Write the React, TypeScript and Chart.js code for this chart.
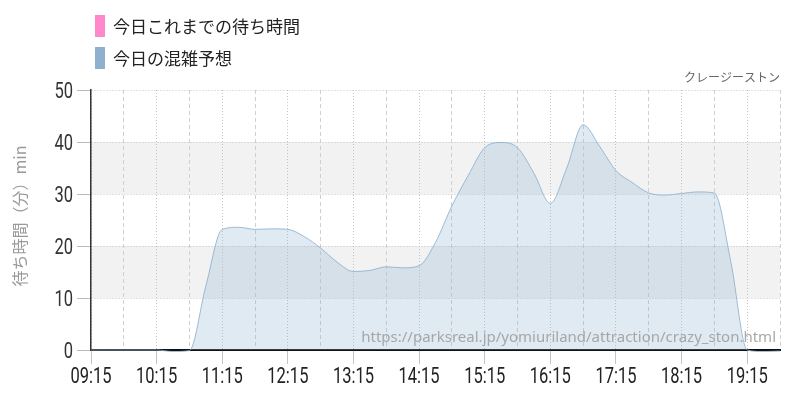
import React, { useEffect, useRef } from "react";
import { Chart, registerables } from "chart.js";

Chart.register(...registerables);

// ---- data ----
const times = [
  "09:15", "09:30", "09:45", "10:00", "10:15", "10:30", "10:45", "11:00",
  "11:15", "11:30", "11:45", "12:00", "12:15", "12:30", "12:45", "13:00",
  "13:15", "13:30", "13:45", "14:00", "14:15", "14:30", "14:45", "15:00",
  "15:15", "15:30", "15:45", "16:00", "16:15", "16:30", "16:45", "17:00",
  "17:15", "17:30", "17:45", "18:00", "18:15", "18:30", "18:45", "19:00",
  "19:15", "19:30", "19:45",
];
const forecast = [
  0, 0, 0, 0, 0, -0.3, -0.1, 12.3,
  23.2, 23.6, 23.2, 23.3, 23.2, 21.8, 19.6, 16.9,
  15.1, 15.3, 16.0, 15.8, 16.2, 20.7, 27.7, 33.6,
  38.9, 39.9, 38.9, 34.0, 28.2, 35.0, 43.3, 39.2,
  34.5, 32.2, 30.2, 29.8, 30.1, 30.4, 30.2, 17.0,
  0, -0.3, -0.2,
];
const actual: (number | null)[] = [];
const tickLabels = [
  "09:15", "10:15", "11:15", "12:15", "13:15", "14:15",
  "15:15", "16:15", "17:15", "18:15", "19:15",
];
const yTicks = [0, 10, 20, 30, 40, 50];
const bands = [
  [10, 20],
  [30, 40],
];
const seriesNames = ["今日これまでの待ち時間", "今日の混雑予想"];
const chartTitle = "クレージーストン";
const yAxisTitle = "待ち時間（分）min";
const sourceUrl = "https://parksreal.jp/yomiuriland/attraction/crazy_ston.html";

const NUM_FONT = "Roboto, 'DejaVu Sans', sans-serif";
const JP_FONT = "'Noto Sans CJK JP', 'Noto Sans', sans-serif";
const CONDENSE = 0.75;

function drawCondensed(ctx: any, text: string, x: number, y: number, align: string) {
  ctx.save();
  ctx.translate(x, y);
  ctx.scale(CONDENSE, 1);
  ctx.textAlign = align;
  ctx.fillText(text, 0, 0);
  ctx.restore();
}

const decorPlugin = {
  id: "decor",
  beforeDraw(chart: any) {
    const { ctx, chartArea, scales } = chart;
    const y = scales.y;
    ctx.save();
    ctx.fillStyle = "#f2f2f2";
    for (const [a, b] of bands) {
      const y1 = y.getPixelForValue(b);
      const y2 = y.getPixelForValue(a);
      ctx.fillRect(chartArea.left, y1, chartArea.right - chartArea.left, y2 - y1);
    }
    ctx.restore();
  },
  afterDatasetsDraw(chart: any) {
    const { ctx, chartArea } = chart;
    ctx.save();
    ctx.font = "15px 'Noto Sans', sans-serif";
    ctx.fillStyle = "rgba(160,160,160,0.9)";
    ctx.textAlign = "right";
    ctx.textBaseline = "middle";
    ctx.fillText(sourceUrl, chartArea.right - 4, chartArea.bottom - 12);
    ctx.restore();
  },
  afterDraw(chart: any) {
    const { ctx, chartArea, scales } = chart;
    ctx.save();
    // condensed tick labels
    ctx.font = `22px ${NUM_FONT}`;
    ctx.textBaseline = "alphabetic";
    ctx.fillStyle = "#222";
    for (const lab of tickLabels) {
      const px = scales.x.getPixelForValue(times.indexOf(lab));
      drawCondensed(ctx, lab, px, chartArea.bottom + 33, "center");
    }
    ctx.fillStyle = "#333";
    for (const v of yTicks) {
      const py = scales.y.getPixelForValue(v);
      drawCondensed(ctx, String(v), chartArea.left - 18, py + 8, "right");
    }
    // legend
    chart.data.datasets.forEach((ds: any, i: number) => {
      const top = 15 + i * 32;
      ctx.fillStyle = ds.legendColor;
      ctx.fillRect(95, top, 10, 22);
      ctx.fillStyle = "#222";
      ctx.font = `17px ${JP_FONT}`;
      ctx.textAlign = "left";
      ctx.textBaseline = "middle";
      ctx.fillText(ds.label, 113, top + 12);
    });
    // title
    ctx.font = `12px ${JP_FONT}`;
    ctx.fillStyle = "#666";
    ctx.textAlign = "right";
    ctx.textBaseline = "middle";
    ctx.fillText(chartTitle, chartArea.right, 77);
    // y axis title
    ctx.translate(20, (chartArea.top + chartArea.bottom) / 2 - 4);
    ctx.rotate(-Math.PI / 2);
    ctx.font = `16px ${JP_FONT}`;
    ctx.fillStyle = "#999";
    ctx.textAlign = "center";
    ctx.textBaseline = "middle";
    ctx.fillText(yAxisTitle, 0, 0);
    ctx.restore();
  },
};

export default function App() {
  const ref = useRef<HTMLCanvasElement | null>(null);

  useEffect(() => {
    if (!ref.current) return;
    const chart = new Chart(ref.current, {
      type: "line",
      data: {
        labels: times,
        datasets: [
          {
            label: seriesNames[0],
            data: actual,
            borderColor: "#ff88cc",
            backgroundColor: "rgba(255,136,204,0.3)",
            legendColor: "#ff88cc",
            pointRadius: 0,
          } as any,
          {
            label: seriesNames[1],
            data: forecast,
            borderColor: "rgba(140,176,207,0.85)",
            backgroundColor: "rgba(143,178,208,0.28)",
            legendColor: "#8fb1cf",
            borderWidth: 1,
            fill: "origin",
            pointRadius: 0,
            cubicInterpolationMode: "monotone",
            clip: 6,
          } as any,
        ],
      },
      options: {
        responsive: false,
        animation: false,
        layout: { padding: { top: 90, right: 20, left: 0, bottom: 0 } },
        plugins: {
          legend: { display: false },
          title: { display: false },
          tooltip: { enabled: false },
        },
        scales: {
          x: {
            type: "category",
            offset: false,
            afterFit: (s: any) => {
              s.height = 50;
            },
            grid: {
              color: (c: any) =>
                c.index % 4 === 0 ? "#c4c4c4" : c.index % 4 === 2 ? "#d0d0d0" : "transparent",
              tickColor: (c: any) => (c.index % 4 === 0 ? "#c4c4c4" : "transparent"),
              tickLength: 14,
              lineWidth: 1,
            },
            border: {
              color: "#111",
              width: 2,
              dash: (c: any) => (c.index % 4 === 0 ? [1, 2] : [4, 3]),
            },
            ticks: {
              autoSkip: false,
              maxRotation: 0,
              padding: 2,
              color: "transparent",
              font: { family: NUM_FONT, size: 22 },
              callback: (_v: any, i: number) => (tickLabels.includes(times[i]) ? times[i] : ""),
            },
          },
          y: {
            min: yTicks[0],
            max: yTicks[yTicks.length - 1],
            afterFit: (s: any) => {
              s.width = 91;
            },
            afterBuildTicks: (s: any) => {
              s.ticks = yTicks.map((v) => ({ value: v }));
            },
            grid: {
              color: "#c4c4c4",
              tickColor: "#bbbbbb",
              tickLength: 14,
            },
            border: {
              color: "#333",
              width: 1.5,
              dash: [1, 2],
            },
            ticks: {
              padding: 4,
              color: "transparent",
              font: { family: NUM_FONT, size: 22 },
            },
          },
        },
      },
      plugins: [decorPlugin],
    });
    return () => chart.destroy();
  }, []);

  return (
    <div style={{ position: "absolute", left: 0, top: 0, width: 800, height: 400, background: "#fff" }}>
      <canvas ref={ref} width={800} height={400} style={{ display: "block" }} />
    </div>
  );
}
